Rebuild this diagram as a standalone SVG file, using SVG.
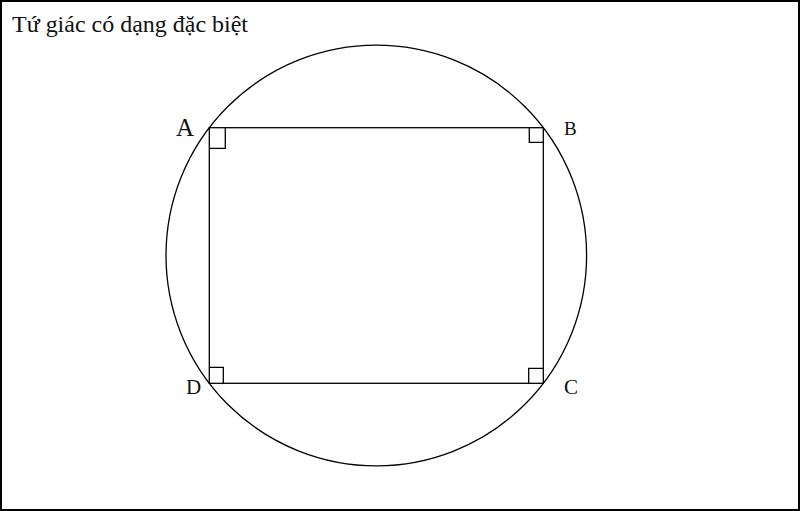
<svg xmlns="http://www.w3.org/2000/svg" width="800" height="511" viewBox="0 0 800 511">
<style>
.ln{fill:none;stroke:#000;stroke-width:1.3}
.lbl{font-family:"Liberation Serif","DejaVu Serif",serif;fill:#111}
</style>
<rect x="0" y="0" width="800" height="511" fill="#fff"/>
<rect x="1" y="1" width="798" height="509" fill="none" stroke="#000" stroke-width="2"/>
<text class="lbl" x="12" y="32" font-size="24" textLength="236" lengthAdjust="spacingAndGlyphs">Tứ giác có dạng đặc biệt</text>
<g id="circle"><circle class="ln" cx="376.3" cy="255.5" r="210.3"/></g>
<g id="rectangle"><rect class="ln" x="209.3" y="127.7" width="334" height="255.6"/></g>
<g id="right-angles">
<path class="ln" d="M209.3,148.3 H225.3 V127.7"/>
<path class="ln" d="M529.3,127.7 V142.3 H543.3"/>
<path class="ln" d="M528.7,383.3 V368.3 H543.3"/>
<path class="ln" d="M209.3,367.3 H223.3 V383.3"/>
</g>
<g id="labels">
<text class="lbl" x="176" y="136" font-size="25">A</text>
<text class="lbl" x="564" y="135" font-size="19">B</text>
<text class="lbl" x="564" y="394" font-size="21">C</text>
<text class="lbl" x="186" y="394" font-size="21">D</text>
</g>
</svg>
